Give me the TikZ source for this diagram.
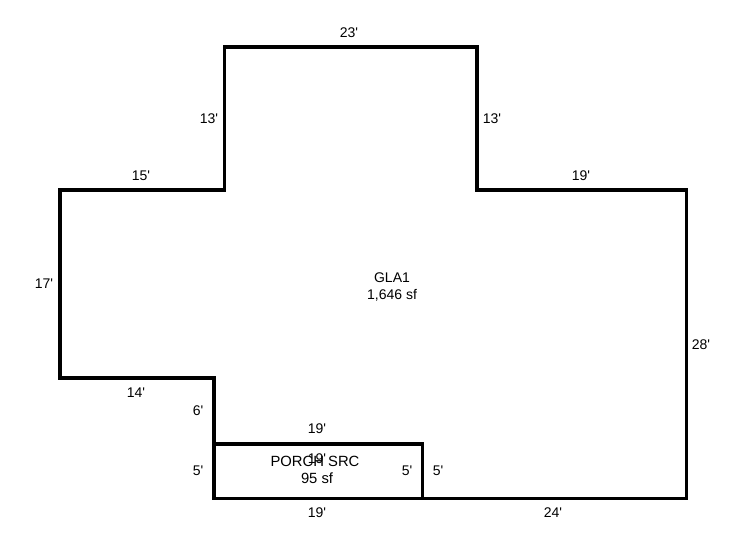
\documentclass[tikz,border=0pt]{standalone}
\usepackage{fontspec}
\setmainfont{Liberation Sans}[Ligatures=TeXOff]
\usepackage{tikz}
\usetikzlibrary{positioning}

\begin{document}
\begin{tikzpicture}[x=1pt,y=-1pt,
        wall/.style={line width=3.2pt,line join=miter},
        dimlabel/.style={inner sep=0pt,font=\fontsize{14}{16}\selectfont},
        arealabel/.style={inner sep=0pt,align=center,font=\fontsize{14}{17}\selectfont},
        porchlabel/.style={inner sep=0pt,align=center,font=\fontsize{14.8}{17}\selectfont}]
                    \useasboundingbox (0,0) rectangle (746,547);
                    \draw[wall] plot coordinates {
                            (224.5,47)
                            (477,47)
                            (477,190)
                            (686.5,190)
                            (686.5,498.5)
                            (214,498.5)
                            (214,378)
                            (60,378)
                            (60,190)
                            (224.5,190)
                        } -- cycle;
                    \draw[wall] (214,444) -- (422.7,444) -- (422.7,498.5) -- (214,498.5) -- cycle;
                    \node[dimlabel] (topA) at (349,33) {23'};
                    \node[dimlabel] (leftB) at (209,119) {13'};
                    \node[dimlabel] (rightB) at (492,119) {13'};
                    \node[dimlabel] (topC) at (141,176) {15'};
                    \node[dimlabel] (topD) at (581,176) {19'};
                    \node[dimlabel] (leftE) at (44,284) {17'};
                    \node[dimlabel] (rightF) at (701,345) {28'};
                    \node[dimlabel] (botG) at (136,393) {14'};
                    \node[dimlabel] (leftH) at (198,411) {6'};
                    \node[dimlabel] (porchtop) at (317,429) {19'};
                    \node[dimlabel] (porchin) at (317,459) {19'};
                    \node[dimlabel] (porchleft) at (198,471) {5'};
                    \node[dimlabel] (porchright) at (407,471) {5'};
                    \node[dimlabel] (porchout) at (438,471) {5'};
                    \node[dimlabel] (porchbot) at (317,513) {19'};
                    \node[dimlabel] (botJ) at (553,513) {24'};
                    \node[arealabel] (gla) at (392,287) {GLA1\\1,646 sf};
                    \node[porchlabel] (porch) at (315,470) {PORCH SRC\\\ 95 sf};
                \end{tikzpicture}
\end{document}
